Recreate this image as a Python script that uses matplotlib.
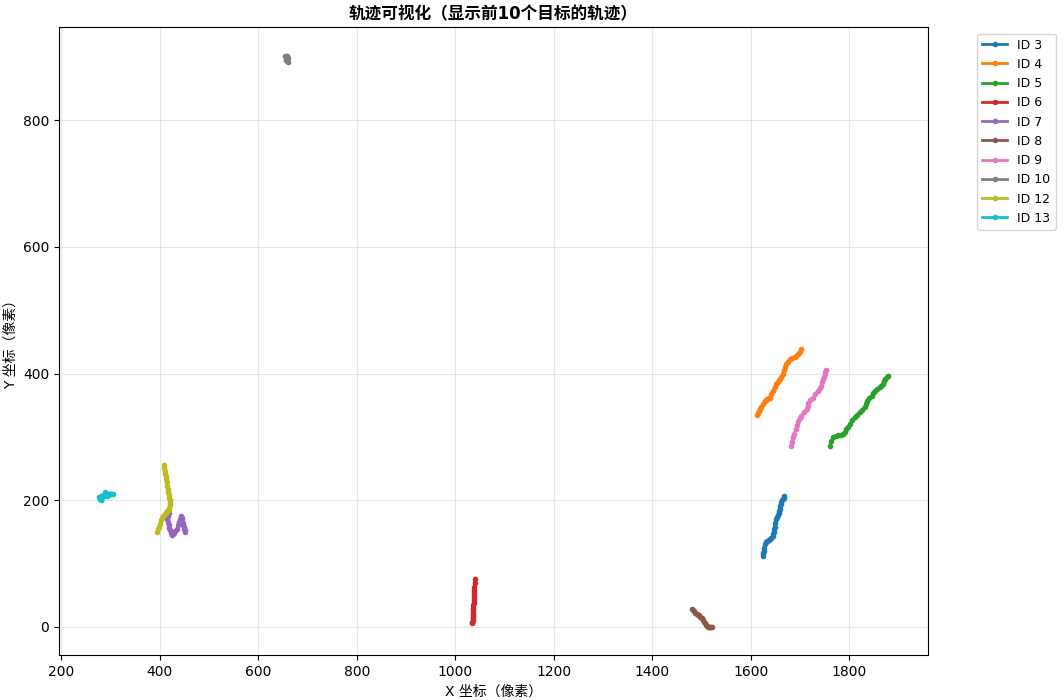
import matplotlib.pyplot as plt

plt.rcParams['font.family'] = ['DejaVu Sans', 'Noto Sans CJK SC']

# Trajectory points (pixel coordinates) for the first 10 tracks
track_ids = [3, 4, 5, 6, 7, 8, 9, 10, 12, 13]

id3_x = [1624, 1625, 1626, 1627, 1628, 1630, 1633, 1636, 1638, 1641, 1644, 1645, 1646, 1647,
         1648, 1650, 1652, 1654, 1655, 1657, 1658, 1659, 1660, 1661, 1662, 1664, 1665, 1667, 1668]
id3_y = [111, 116, 120, 125, 130, 133, 135, 137, 138, 140, 143, 146, 150, 154,
         158, 164, 170, 173, 176, 179, 182, 186, 190, 194, 197, 200, 202, 204, 206]

id4_x = [1612, 1614, 1617, 1619, 1621, 1624, 1628, 1630, 1633, 1636, 1638, 1641, 1645, 1648,
         1652, 1655, 1658, 1660, 1662, 1665, 1668, 1670, 1672, 1675, 1679, 1684, 1689, 1692,
         1696, 1699, 1702]
id4_y = [334, 337, 340, 344, 347, 352, 357, 358, 359, 361, 362, 367, 373, 379,
         384, 387, 389, 391, 394, 400, 405, 410, 415, 419, 423, 425, 426, 428,
         431, 434, 438]

id5_x = [1760, 1763, 1767, 1772, 1777, 1782, 1787, 1791, 1794, 1797, 1801, 1806, 1811, 1816,
         1821, 1826, 1831, 1833, 1835, 1840, 1845, 1848, 1851, 1856, 1862, 1865, 1868, 1870,
         1872, 1876, 1879]
id5_y = [286, 293, 299, 301, 303, 303, 304, 308, 312, 316, 320, 326, 331, 335,
         339, 343, 347, 352, 357, 361, 365, 369, 373, 376, 378, 381, 384, 388,
         391, 394, 396]

id6_x = [1035, 1035, 1036, 1036, 1036, 1037, 1037, 1037, 1037, 1037, 1038, 1038, 1038, 1038,
         1039, 1039, 1039, 1040, 1040]
id6_y = [5, 7, 10, 13, 16, 19, 22, 26, 30, 34, 38, 42, 46, 50,
         54, 58, 62, 69, 75]

id7_x = [418, 416, 415, 416, 418, 420, 422, 424, 426, 428, 430, 432, 435, 438,
         440, 442, 444, 445, 446, 447, 448, 449, 450, 451, 452]
id7_y = [180, 175, 170, 165, 160, 156, 152, 148, 145, 146, 148, 151, 155, 160,
         165, 170, 175, 172, 168, 164, 160, 158, 155, 152, 150]

id8_x = [1480, 1482, 1485, 1487, 1490, 1492, 1495, 1497, 1500, 1502, 1505, 1506, 1508, 1510,
         1512, 1515, 1518, 1520, 1521]
id8_y = [28, 27, 25, 22, 20, 19, 18, 16, 14, 11, 8, 5, 2, 1,
         0, 0, 0, 0, 0]

id9_x = [1682, 1683, 1685, 1688, 1692, 1694, 1696, 1699, 1702, 1708, 1713, 1715, 1716, 1721,
         1726, 1731, 1736, 1740, 1743, 1745, 1746, 1748, 1750, 1751, 1752]
id9_y = [286, 292, 299, 305, 312, 318, 325, 329, 333, 339, 344, 349, 354, 358,
         362, 367, 373, 377, 381, 386, 391, 395, 399, 402, 406]

id10_x = [655, 657, 658, 659, 660, 658, 657, 659, 660, 658, 656, 657, 659]
id10_y = [902, 901, 900, 899, 898, 896, 895, 894, 893, 895, 896, 899, 901]

id12_x = [395, 396, 398, 400, 402, 404, 407, 410, 412, 415, 418, 420, 422, 422, 421, 420,
          418, 417, 416, 415, 414, 413, 412, 411, 410, 409, 408]
id12_y = [150, 154, 158, 163, 168, 172, 175, 178, 180, 183, 185, 188, 192, 196, 200, 204,
          208, 213, 218, 223, 228, 233, 238, 242, 246, 250, 255]

id13_x = [276, 278, 280, 282, 284, 286, 287, 289, 290, 292, 293, 295, 296, 298, 300, 303,
          305, 300, 294, 288, 282, 279, 278]
id13_y = [205, 202, 200, 201, 203, 206, 208, 210, 212, 209, 207, 208, 209, 210, 210, 210,
          210, 209, 208, 208, 207, 204, 202]

tracks_x = [id3_x, id4_x, id5_x, id6_x, id7_x, id8_x, id9_x, id10_x, id12_x, id13_x]
tracks_y = [id3_y, id4_y, id5_y, id6_y, id7_y, id8_y, id9_y, id10_y, id12_y, id13_y]


def main():
    fig, ax = plt.subplots(figsize=(10.64, 7.0), dpi=100)
    fig.subplots_adjust(left=0.0555, right=0.872, bottom=0.064, top=0.961)

    for tid, xs, ys in zip(track_ids, tracks_x, tracks_y):
        ax.plot(xs, ys, marker='o', markersize=3, linewidth=2, label=f'ID {tid}')

    ax.set_title('轨迹可视化（显示前10个目标的轨迹）', fontweight='bold')
    ax.set_xlabel('X 坐标（像素）')
    ax.set_ylabel('Y 坐标（像素）')
    ax.grid(True, alpha=0.3)
    ax.legend(bbox_to_anchor=(1.05, 1), loc='upper left', fontsize=9)

    fig.savefig('out.png', dpi=100)


if __name__ == '__main__':
    main()
